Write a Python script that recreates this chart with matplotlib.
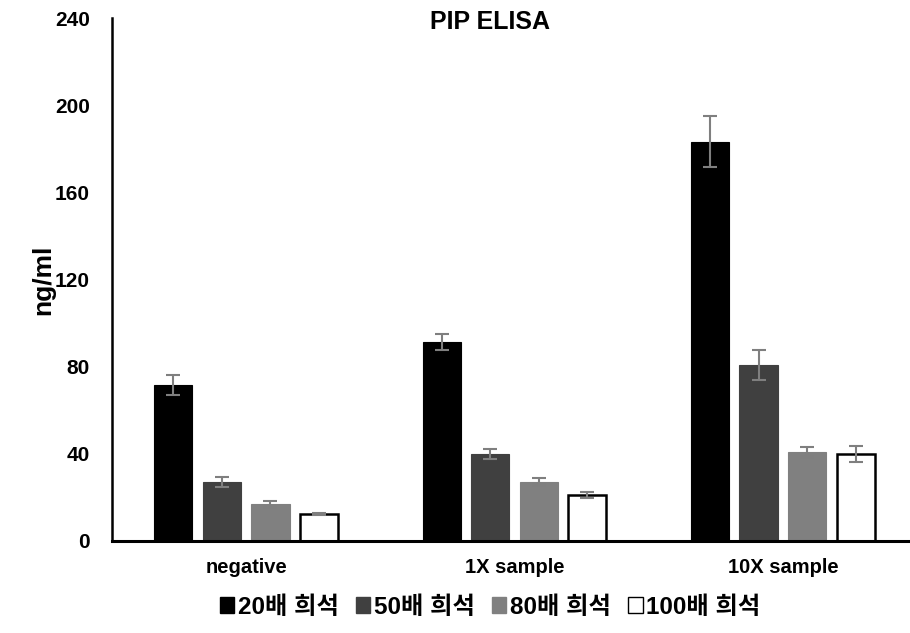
import numpy as np
import matplotlib
matplotlib.use("Agg")
import matplotlib.pyplot as plt
from matplotlib.patches import Patch

plt.rcParams['font.family'] = ['Liberation Sans', 'Noto Sans CJK KR', 'DejaVu Sans']

# 데이터
categories = ['negative', '1X sample', '10X sample']
series = ['20배 희석', '50배 희석', '80배 희석', '100배 희석']
values = [
    [71.6, 91.3, 183.3],
    [27.1, 39.9, 80.8],
    [17.0, 27.2, 40.8],
    [12.4, 21.1, 40.0],
]
errors = [
    [4.5, 3.8, 11.5],
    [2.3, 2.3, 7.0],
    [1.5, 1.7, 2.3],
    [0.5, 1.2, 3.6],
]
colors = ['#000000', '#404040', '#808080', '#ffffff']
yticks = [0, 40, 80, 120, 160, 200, 240]

fig = plt.figure(figsize=(9.1, 6.33), dpi=100)
ax = fig.add_axes([112 / 910, 92 / 633, 805 / 910, 523 / 633])

x = np.arange(len(categories))
step = 0.181
width = 0.142
for i, (name, vals, errs, c) in enumerate(zip(series, values, errors, colors)):
    ax.bar(x + (i - 1.5) * step, vals, width=width, color=c,
           edgecolor='black' if c in ('#000000', '#ffffff') else c,
           linewidth=1.8 if c == '#ffffff' else 0.8, label=name, zorder=2)
    ax.errorbar(x + (i - 1.5) * step, vals, yerr=errs, fmt='none',
                ecolor='#7f7f7f', elinewidth=1.5, capsize=5, capthick=1.5, zorder=3)

ax.set_xlim(-0.5, 2.5)
ax.set_ylim(0, 240)
ax.set_yticks(yticks)
ax.set_xticks(x)
ax.set_xticklabels(categories, fontsize=14.5, fontweight='bold')
ax.tick_params(axis='y', length=0, pad=16, labelsize=15)
ax.tick_params(axis='x', length=0, pad=12)
for lab in ax.get_yticklabels():
    lab.set_fontweight('bold')

for s in ['top', 'right']:
    ax.spines[s].set_visible(False)
ax.spines['left'].set_linewidth(1.8)
ax.spines['bottom'].set_linewidth(2.2)

ax.set_ylabel('ng/ml', fontsize=19, fontweight='bold')
ax.yaxis.set_label_coords(-0.07, 0.5)

fig.text(490 / 910, 1 - 22 / 633, 'PIP ELISA', ha='center', va='center',
         fontsize=18, fontweight='bold')

handles = [Patch(facecolor=c, edgecolor='black' if c in ('#000000', '#ffffff') else c,
                 linewidth=1) for c in colors]
fig.legend(handles, series, loc='center', bbox_to_anchor=(490 / 910, 1 - 607 / 633),
           ncol=4, frameon=False, handlelength=0.6, handleheight=0.6,
           handletextpad=0.15, columnspacing=0.7,
           prop={'family': ['Liberation Sans', 'Noto Sans CJK KR'], 'weight': 'bold', 'size': 17.5})

fig.savefig('out.png', dpi=100)
